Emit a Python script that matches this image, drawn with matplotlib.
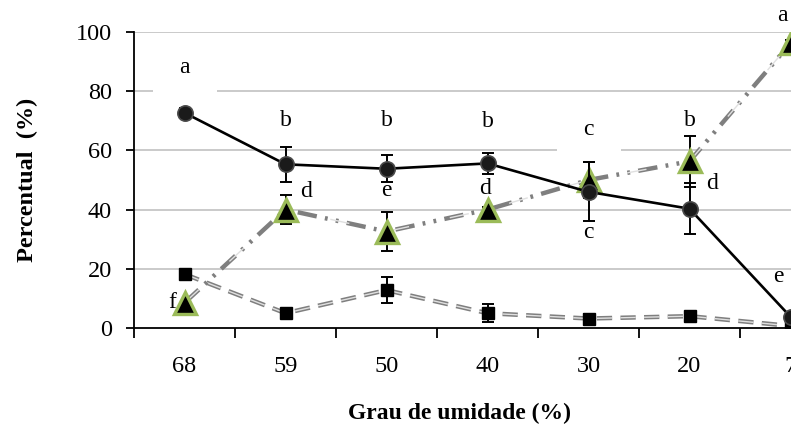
import matplotlib
matplotlib.use("Agg")
import matplotlib.pyplot as plt
from matplotlib.patches import Rectangle
import numpy as np

plt.rcParams['font.family'] = ['Liberation Serif', 'DejaVu Serif']
plt.rcParams['lines.scale_dashes'] = False

# Moisture levels (%) and the three response series
categories = ["68", "59", "50", "40", "30", "20", "7"]

circle_vals = [72.7, 55.3, 53.8, 55.6, 46.0, 40.3, 3.8]
circle_err = [1.7, 6.0, 4.5, 3.5, 10.0, 8.7, 1.0]
circle_letters = ["a", "b", "b", "b", "c", "b", "e"]

triangle_vals = [8.5, 40.0, 32.6, 40.0, 50.0, 56.3, 96.2]
triangle_err = [0.0, 5.0, 6.5, 1.0, 6.0, 8.5, 1.0]
triangle_letters = ["f", "d", "e", "d", "c", "d", "a"]

square_vals = [18.2, 5.0, 12.8, 5.0, 3.2, 4.0, 0.7]
square_err = [1.0, 1.0, 4.5, 3.0, 1.5, 1.5, 0.5]

yticks = [0, 20, 40, 60, 80, 100]

# Letter placement (offset in pixels from each point) and white backing boxes
circle_off = [(0, 45), (0, 44), (0, 48), (0, 42), (0, 62), (0, 88), (-12, 40)]
circle_box = [True, False, False, False, True, False, False]
triangle_off = [(-12, 0), (21, 18), (0, 41), (-2, 21), (0, -52), (23, -22), (-8, 28)]

W, H = 791, 428
fig = plt.figure(figsize=(W / 100, H / 100), dpi=100)
ax = fig.add_axes([134 / W, 100 / H, 707 / W, 296 / H])

x = np.arange(len(categories))

ax.set_xlim(-0.5, len(categories) - 0.5)
ax.set_ylim(0, 100)

# pixel scale of the data axes
px_x = 707 / len(categories)
px_y = 296 / 100

# gridlines
for yv in yticks[1:]:
    ax.axhline(yv, color="#c6c6c6", lw=1.3, zorder=0.5)

# squares: striped dashed line
dash_sq = (0, (11, 6))
ax.plot(x, square_vals, color="#7f7f7f", lw=3.2, ls=dash_sq, zorder=2)
ax.plot(x, square_vals, color="#e0e0e0", lw=1.0, ls=dash_sq, zorder=2.05)
ax.errorbar(x, square_vals, yerr=square_err, fmt="none", ecolor="black",
            elinewidth=1.4, capsize=4.5, capthick=1.4, zorder=2.1)
ax.plot(x, square_vals, ls="none", marker="s", ms=9, mfc="black",
        mec="black", zorder=2.2)

# triangles: striped dash-dot-dot line
dash_tr = (0, (14, 6, 2, 6, 2, 6))
ax.plot(x, triangle_vals, color="#7f7f7f", lw=3.2, ls=dash_tr, zorder=3)
ax.plot(x, triangle_vals, color="#e0e0e0", lw=1.0, ls=(0, (14, 30)), zorder=3.05)
ax.errorbar(x, triangle_vals, yerr=triangle_err, fmt="none", ecolor="black",
            elinewidth=1.4, capsize=4.5, capthick=1.4, zorder=3.1)
ax.plot(x, triangle_vals, ls="none", marker="^", ms=16, mfc="black",
        mec="#9bbb59", mew=2.4, zorder=3.2)

# circles: solid black line
ax.plot(x, circle_vals, color="black", lw=1.9, zorder=4)
ax.errorbar(x, circle_vals, yerr=circle_err, fmt="none", ecolor="black",
            elinewidth=1.4, capsize=4.5, capthick=1.4, zorder=4.1)
ax.plot(x, circle_vals, ls="none", marker="o", ms=11, mfc="#1a1a1a",
        mec="#4a4a4a", mew=1.2, zorder=4.2)

# significance letters
for xi, yv, lab, off, boxed in zip(x, circle_vals, circle_letters, circle_off, circle_box):
    cx = xi + off[0] / px_x
    cy = yv + off[1] / px_y
    if boxed:
        ax.add_patch(Rectangle((cx - 32 / px_x, cy - 28 / px_y), 64 / px_x,
                               42 / px_y, fc="white", ec="none", zorder=1))
    ax.text(cx, cy, lab, ha="center", va="center", fontsize=17, zorder=5)
for xi, yv, lab, off in zip(x, triangle_vals, triangle_letters, triangle_off):
    ax.text(xi + off[0] / px_x, yv + off[1] / px_y, lab, ha="center",
            va="center", fontsize=17, zorder=5, clip_on=False)

# axes styling
for side in ("top", "right"):
    ax.spines[side].set_visible(False)
for side in ("left", "bottom"):
    ax.spines[side].set_linewidth(1.3)
    ax.spines[side].set_zorder(6)

ax.set_yticks(yticks)
ax.set_yticklabels([str(v) for v in yticks], fontsize=17.5)
ax.tick_params(axis="y", direction="out", length=6, width=1.3, pad=10)

ax.set_xticks(x)
ax.set_xticklabels(categories, fontsize=17.5)
ax.tick_params(axis="x", which="major", length=0, pad=20)
ax.set_xticks(np.arange(len(categories) + 1) - 0.5, minor=True)
ax.tick_params(axis="x", which="minor", direction="out", length=7, width=1.3)

ax.set_ylabel("Percentual  (%)", fontsize=17.5, fontweight="bold", labelpad=27)
fig.text(460 / W, 1 - 413 / H, "Grau de umidade (%)", fontsize=17,
         fontweight="bold", ha="center", va="center")

fig.savefig("out.png", dpi=100)
